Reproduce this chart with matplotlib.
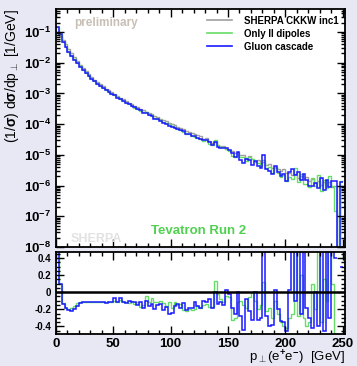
import numpy as np
import matplotlib
matplotlib.use("Agg")
import matplotlib.pyplot as plt
from matplotlib.lines import Line2D
from matplotlib.ticker import LogLocator, MultipleLocator, NullFormatter, FixedLocator

plt.rcParams['font.family'] = ['Liberation Sans', 'DejaVu Sans']
plt.rcParams['font.weight'] = 'bold'
plt.rcParams['mathtext.fontset'] = 'custom'
plt.rcParams['mathtext.rm'] = 'Liberation Sans:bold'
plt.rcParams['mathtext.it'] = 'Liberation Sans:bold'
plt.rcParams['mathtext.bf'] = 'Liberation Sans:bold'
plt.rcParams['mathtext.default'] = 'bf'

# bin edges in GeV (100 bins of 2.5 GeV)
edges = np.arange(0, 252.5, 2.5)

# SHERPA CKKW inc1, log10 of (1/sigma) dsigma/dpT per bin; None = empty bin
sherpa_log = [
    -1.00, -1.12, -1.27, -1.40, -1.54, -1.68, -1.82, -1.95, -2.07, -2.18,
    -2.28, -2.38, -2.47, -2.55, -2.63, -2.70, -2.77, -2.84, -2.90, -2.96,
    -3.02, -3.08, -3.14, -3.19, -3.25, -3.30, -3.35, -3.40, -3.45, -3.50,
    -3.54, -3.59, -3.64, -3.68, -3.73, -3.77, -3.82, -3.86, -3.90, -3.95,
    -3.99, -4.04, -4.08, -4.11, -4.17, -4.21, -4.24, -4.30, -4.33, -4.36,
    -4.40, -4.47, -4.46, -4.55, -4.60, -4.58, -4.67, -4.72, -4.70, -4.80,
    -4.84, -4.86, -4.93, -4.92, -5.01, -5.00, -5.10, -5.05, -5.15, -5.20,
    -5.18, -5.28, -5.22, -5.33, -5.30, -5.42, -5.38, -5.47, -5.52, -5.45,
    -5.60, -5.58, -5.66, -5.62, -5.75, -5.70, -5.80, -5.72, -5.86, -5.78,
    -5.92, -5.85, -5.98, -5.88, -6.02, -5.90, -6.05, -6.00, None, -6.00,
]

# ratio (X / SHERPA - 1)
only_ii_ratio = [
    0.50, 0.10, -0.13, -0.18, -0.20, -0.19, -0.16, -0.13, -0.11, -0.11,
    -0.11, -0.12, -0.12, -0.11, -0.12, -0.12, -0.11, -0.12, -0.12, -0.11,
    -0.10, -0.11, -0.09, -0.12, -0.11, -0.13, -0.10, -0.14, -0.12, -0.17,
    -0.15, -0.04, -0.12, -0.07, -0.12, -0.12, -0.10, -0.13, -0.16, -0.12,
    -0.18, -0.12, -0.15, -0.14, -0.21, -0.22, -0.20, -0.21, -0.20, -0.16,
    -0.18, -0.15, -0.14, -0.17, -0.17, 0.13, -0.02, -0.08, -0.12, -0.04,
    -0.06, -0.33, -0.30, -0.12, -0.10, -0.15, -0.18, -0.06, 0.00, -0.10,
    -0.20, -0.15, 0.12, -0.22, -0.18, -0.30, -0.10, -0.25, -0.35, -0.40,
    -0.42, -0.30, -0.25, 0.55, -0.28, 0.20, -0.30, -0.40, -0.35, 0.10,
    -0.20, 0.55, -0.35, 0.15, -0.10, 0.60, 0.10, -0.85, None, 0.40,
]

cascade_ratio = [
    0.50, 0.10, -0.14, -0.19, -0.21, -0.22, -0.20, -0.16, -0.13, -0.12,
    -0.11, -0.12, -0.11, -0.12, -0.12, -0.11, -0.12, -0.13, -0.11, -0.12,
    -0.07, -0.12, -0.07, -0.11, -0.13, -0.10, -0.12, -0.11, -0.15, -0.12,
    -0.18, -0.10, -0.16, -0.14, -0.20, -0.15, -0.14, -0.21, -0.17, -0.25,
    -0.24, -0.16, -0.14, -0.19, -0.13, -0.21, -0.18, -0.19, -0.12, -0.16,
    -0.19, -0.10, -0.12, -0.08, -0.19, 0.00, -0.14, -0.12, -0.15, 0.03,
    -0.02, -0.18, -0.25, 0.00, -0.28, -0.44, -0.08, -0.22, -0.33, 0.00,
    -0.33, -0.30, 0.60, -0.28, -0.40, -0.38, 0.02, -0.20, -0.34, -0.35,
    -0.46, 0.02, 0.55, -0.10, 0.60, -0.25, 0.55, -0.18, -0.30, -0.42,
    0.00, -0.40, 0.65, -0.45, 0.60, -0.30, 0.60, 0.40, None, 0.30,
]

labels = ["SHERPA CKKW inc1", "Only II dipoles", "Gluon cascade"]
colors = ["#a0a0a0", "#66dd66", "#1a1aff"]

ref = np.array([10.0**v if v is not None else 0.0 for v in sherpa_log])
r_ii = np.array([np.nan if v is None else v for v in only_ii_ratio])
r_gc = np.array([np.nan if v is None else v for v in cascade_ratio])
ii = ref * (1 + np.nan_to_num(r_ii))
gc = ref * (1 + np.nan_to_num(r_gc))

W, H = 357, 366
fig = plt.figure(figsize=(W / 100, H / 100), dpi=100)
fig.patch.set_facecolor("#e8e8f4")
ax = fig.add_axes([56 / W, (H - 247) / H, 289 / W, 238 / H])
axr = fig.add_axes([56 / W, (H - 334) / H, 289 / W, 82 / H])

def floor(v):
    return np.where(v > 0, v, 1e-12)

ax.stairs(floor(ref), edges, color=colors[0], lw=1.0, baseline=None)
ax.stairs(floor(ii), edges, color=colors[1], lw=1.0, baseline=None)
ax.stairs(floor(gc), edges, color=colors[2], lw=1.1, baseline=None)
ax.set_yscale("log")
ax.set_xlim(0, 252)
ax.set_ylim(1e-8, 0.56)

axr.stairs(r_ii, edges, color=colors[1], lw=1.0, baseline=None)
axr.stairs(r_gc, edges, color=colors[2], lw=1.1, baseline=None)
axr.axhline(0, color="black", lw=1.8)
axr.set_xlim(0, 252)
axr.set_ylim(-0.49, 0.47)

for a in (ax, axr):
    for s in a.spines.values():
        s.set_linewidth(1.3)
    a.tick_params(which="both", direction="in", top=True, right=True, width=1.0)
    a.tick_params(which="major", length=6)
    a.tick_params(which="minor", length=3)
    a.xaxis.set_major_locator(MultipleLocator(50))
    a.xaxis.set_minor_locator(MultipleLocator(10))

ax.yaxis.set_minor_locator(LogLocator(base=10, subs=np.arange(2, 10), numticks=12))
ax.yaxis.set_minor_formatter(NullFormatter())
ax.set_yticks([1e-8, 1e-7, 1e-6, 1e-5, 1e-4, 1e-3, 1e-2, 1e-1])
ax.set_yticklabels([r"$\mathbf{10^{%d}}$" % k for k in range(-8, 0)], fontsize=9.5)
ax.tick_params(axis="x", labelbottom=False)

axr.yaxis.set_major_locator(FixedLocator([-0.4, -0.2, 0, 0.2, 0.4]))
axr.yaxis.set_minor_locator(MultipleLocator(0.05))
axr.set_yticklabels(["-0.4", "-0.2", "0", "0.2", "0.4"], fontsize=7)
axr.tick_params(axis="x", labelsize=9.5, pad=3)

ax.set_ylabel(r"(1/$\sigma$) d$\sigma$/dp$_{\bot}$ [1/GeV]", fontsize=10,
              loc="top", labelpad=2)
axr.set_xlabel(r"p$_{\bot}$(e$^{+}$e$^{-}$)  [GeV]", fontsize=9.5,
               loc="right", labelpad=-1)

handles = [Line2D([], [], color=c, lw=1.2) for c in colors]
ax.legend(handles, labels, loc="upper right", frameon=False,
          handlelength=2.6, handletextpad=1.2, labelspacing=0.3,
          borderaxespad=0.3, prop={"weight": "bold", "size": 7})

ax.text(0.062, 0.94, "preliminary", transform=ax.transAxes, fontsize=8.5,
        color="#c8bfb5", weight="bold", va="center")
ax.text(0.05, 0.035, "SHERPA", transform=ax.transAxes, fontsize=9,
        color="#e2e2e2", weight="bold", va="center")
ax.text(0.33, 0.067, "Tevatron Run 2", transform=ax.transAxes, fontsize=9.5,
        color="#50d050", weight="bold", va="center")

fig.savefig("out.png", dpi=100, facecolor=fig.get_facecolor())
